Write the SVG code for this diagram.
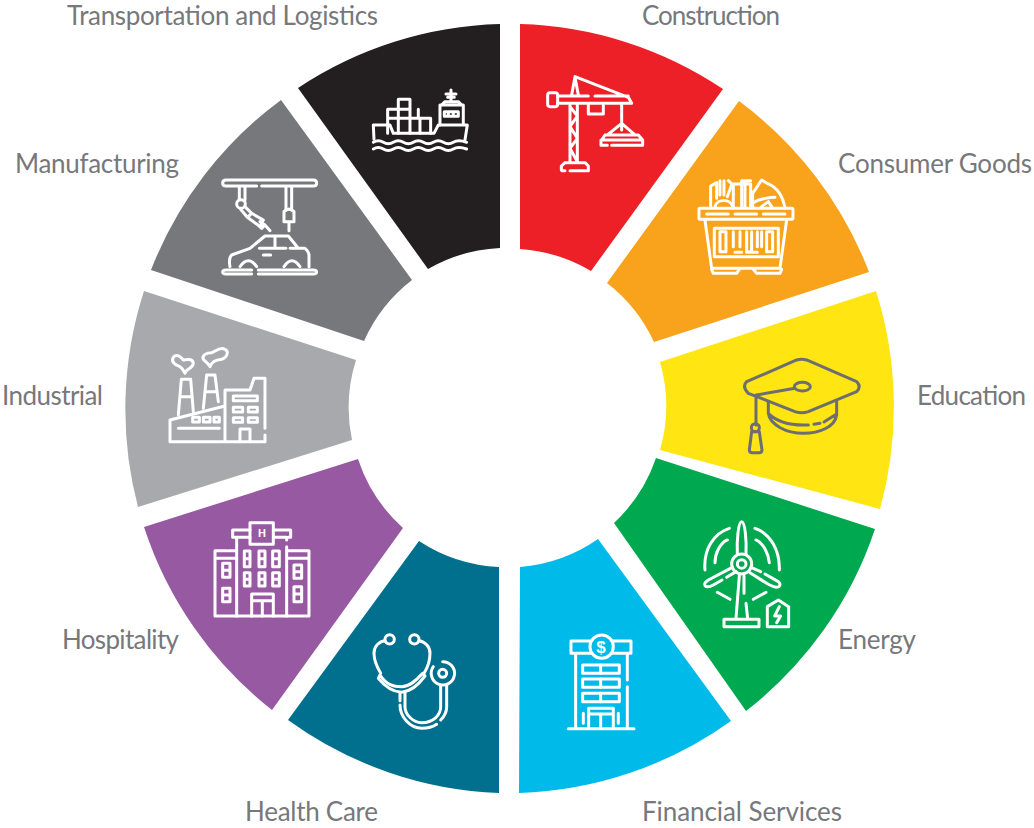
<svg xmlns="http://www.w3.org/2000/svg" width="1034" height="828" viewBox="0 0 1034 828">
<style>
.lbl{font-family:"Lato","Liberation Sans",sans-serif;font-weight:400;font-size:26px;fill:#77787b}
.ic{fill:none;stroke:#fff;stroke-width:9;stroke-linecap:round;stroke-linejoin:round}
.g{stroke:#6d6e71}
.gly{font-family:"Liberation Sans",sans-serif;font-weight:700;fill:#fff;text-anchor:middle}
</style>
<rect width="1034" height="828" fill="#fff"/>
<g id="construction">
<path fill="#ed2027" d="M520,24A384,384 0 0 1 723,89L591,271A159,159 0 0 0 520,249Z"/>
<g class="ic" transform="translate(520,60) scale(.3333)">
<rect x="83" y="98" width="30" height="42" rx="7"/>
<path d="M113,108H205M225,108H325M113,130H335L325,112L165,50L155,105M165,52L175,105"/>
<path d="M205,135V162H250V135M305,135V190L262,225M305,190L345,225M305,190V210M255,225H355L368,240V256H275M262,256H243V240H368M255,225L245,240"/>
<path d="M150,135V305M172,135V305M150,140L172,168L150,200L172,235L150,265L172,305M124,330V318L135,308H195L205,318V332H150M135,332H126"/>
</g>
<text class="lbl" x="642" y="25" textLength="138">Construction</text>
</g>
<g id="consumer-goods">
<path fill="#f9a21b" d="M739,101A384,384 0 0 1 869,272L654,342A159,159 0 0 0 607,283Z"/>
<g class="ic" transform="translate(520,60) scale(.3333)">
<rect x="537" y="445" width="282" height="33" rx="3"/>
<path d="M560,462H625M645,462H710M730,462H795M555,480L575,625H780L800,480M583,505V590H775V505H583M600,515V575H618V515ZM740,515V575H758V515ZM640,515V560M660,515V560M680,515V575H695V515M712,515V560M725,515V560M645,577H665M680,577H712"/>
<path d="M575,628L580,640H650L658,628M700,628L710,640H780L785,628"/>
<path d="M572,440V378L590,368V415M600,362V405M612,362V405M625,362L636,372L622,410M585,440C590,415 632,415 638,440M640,440V372H692V440M665,440V362H692M675,365V440M698,440V400L725,360L745,372C775,385 790,415 795,445M700,428C720,415 755,412 765,412M725,440L745,425L755,440"/>
</g>
<text class="lbl" x="838" y="173" textLength="194">Consumer Goods</text>
</g>
<g id="education">
<path fill="#ffe512" d="M876,291A384,384 0 0 1 880,509L660,450A159,159 0 0 0 660,362Z"/>
<g class="ic g" transform="translate(700,340) scale(.3333)" style="stroke-width:9">
<path d="M140,125L290,60Q305,55 320,60L470,125Q485,140 470,155L325,215Q305,222 285,215L145,160Q125,140 140,125Z"/>
<path d="M170,165L285,145"/><ellipse cx="307" cy="140" rx="24" ry="13"/>
<path d="M168,165V255"/><circle cx="166" cy="263" r="12"/>
<path d="M155,275L148,330Q148,338 156,338H178Q186,338 186,330L178,275Z"/>
<path d="M205,185V220C210,255 260,280 310,280C360,280 405,260 410,225V185M205,220C225,240 260,255 310,255H325M342,253L360,250M372,246L405,225"/>
</g>
<text class="lbl" x="917" y="405" textLength="109">Education</text>
</g>
<g id="energy">
<path fill="#00a84f" d="M875,529A384,384 0 0 1 746,711L614,523A159,159 0 0 0 656,458Z"/>
<g class="ic" transform="translate(700,340) scale(.3333)">
<circle cx="125" cy="672" r="30"/><circle cx="125" cy="672" r="13"/>
<path d="M112,642C110,600 115,545 125,545C135,545 140,600 138,642"/>
<path d="M97,682L25,720Q10,730 15,737Q22,745 40,735L66,720M80,712L108,695"/>
<path d="M153,682L182,695M195,702L235,725Q245,735 235,741Q225,745 200,730L150,698"/>
<path d="M118,708L108,835M132,708V760M138,790L143,835"/>
<rect x="72" y="838" width="105" height="22"/>
<path d="M88,565C40,580 10,630 15,690M82,600C60,610 45,640 45,668M165,565C210,580 240,630 238,690M168,600C190,610 205,640 208,668M52,757L90,778M160,778L198,757"/>
<path d="M202,860V800L235,780L266,800V860ZM238,800L224,828H242L230,848"/>
</g>
<text class="lbl" x="838" y="649" textLength="78">Energy</text>
</g>
<g id="financial-services">
<path fill="#00bbe9" d="M520,567A159,159 0 0 0 598,539L731,721A384,384 0 0 1 519,793Z"/>
<g class="ic" transform="translate(350,510) scale(.3333)">
<path d="M722,393H663V430H722M788,393H843V430H788"/>
<circle cx="755" cy="410" r="35"/>
<path d="M677,432V650M832,530V650M832,432V510M655,656H852"/>
<rect x="698" y="465" width="110" height="25"/><rect x="698" y="507" width="110" height="25"/><rect x="698" y="550" width="110" height="25"/>
<path d="M752,465V490M752,507V532M752,550V575"/>
<path d="M716,650V595H790V650M716,612H790M752,612V650M700,610V640M805,610V640"/>
</g>
<text class="gly" x="601" y="652.500" font-size="17">$</text>
<text class="lbl" x="642" y="821" textLength="200">Financial Services</text>
</g>
<g id="health-care">
<path fill="#00708e" d="M499,567V793A384,384 0 0 1 288,720L419,541A159,159 0 0 0 499,567Z"/>
<g class="ic" transform="translate(350,510) scale(.3333)">
<circle cx="119" cy="388" r="14"/><circle cx="193" cy="388" r="14"/>
<path d="M105,392C85,395 72,410 72,430C72,450 80,470 92,490M207,392C225,395 240,410 240,430C240,450 235,470 222,490"/>
<path d="M90,495C110,525 130,530 155,530C180,530 200,510 218,490L225,498C205,525 180,545 155,547C130,545 105,530 85,505Z"/>
<path d="M150,548V572M150,585C150,620 180,655 215,655C235,655 250,650 260,643M165,548V590C165,615 190,638 215,638C250,638 272,615 272,590V525M290,525V590C290,610 282,620 272,630"/>
<path d="M278,455A35,35 0 1 1 250,470"/><circle cx="278" cy="490" r="12"/>
</g>
<text class="lbl" x="245" y="821" textLength="133">Health Care</text>
</g>
<g id="hospitality">
<path fill="#9859a3" d="M358,459A159,159 0 0 0 403,528L272,710A384,384 0 0 1 144,527Z"/>
<g class="ic" transform="translate(150,340) scale(.3333)">
<rect x="300" y="548" width="70" height="65"/>
<path d="M300,570H248V592H300M370,570H422V592H415M370,592H410V600M260,592V828M410,620V828"/>
<path d="M195,828H477V632H415M195,828V632H230M195,655H260M412,655H477M235,632H258"/>
<path d="M218,670H240V712H218ZM218,691H240M218,745H240V785H218ZM218,765H240M432,675H455V715H432ZM432,695H455M432,740H455V785H432ZM432,762H455"/>
<path d="M283,633H300V680H283ZM283,656H300M327,633H345V680H327ZM327,656H345M368,633H388V680H368ZM368,656H388M283,698H300V738H283ZM283,718H300M327,698H345V738H327ZM327,718H345M368,698H388V738H368ZM368,718H388"/>
<path d="M305,828V762H370V828M305,782H370M337,782V828"/>
</g>
<text class="gly" x="262" y="537" font-size="11">H</text>
<text class="lbl" x="62" y="649" textLength="117">Hospitality</text>
</g>
<g id="industrial">
<path fill="#a7a9ac" d="M144,291L356,360A159,159 0 0 0 352,440L138,507A384,384 0 0 1 144,291Z"/>
<g class="ic" transform="translate(150,340) scale(.3333)">
<path d="M60,305V240L225,198V305M60,305H225V150H300L312,115H345V265M345,285V305H225M85,265H208"/>
<path d="M85,225L94,118H122L130,215M90,170H125M160,205L170,105H195L205,185M165,155H200"/>
<rect x="128" y="232" width="20" height="14"/><rect x="160" y="232" width="20" height="14"/><rect x="192" y="232" width="16" height="14"/>
<rect x="250" y="168" width="72" height="14"/><rect x="250" y="202" width="28" height="14"/><rect x="295" y="202" width="27" height="14"/><rect x="250" y="233" width="28" height="14"/><rect x="295" y="233" width="27" height="14"/>
<path d="M270,305V267H300V305"/>
<path d="M105,100C108,85 130,85 130,70C128,55 110,58 100,60C92,50 80,40 70,52C62,65 75,75 90,80C98,85 100,92 105,100ZM180,80C185,65 195,60 215,58C235,50 238,30 220,26C205,24 195,35 185,38C170,38 155,45 160,58C165,65 175,70 180,80Z"/>
</g>
<text class="lbl" x="2" y="405" textLength="101">Industrial</text>
</g>
<g id="manufacturing">
<path fill="#77787b" d="M281,100L412,280A159,159 0 0 0 364,341L151,270A384,384 0 0 1 281,100Z"/>
<g class="ic" transform="translate(210,80) scale(.3333)">
<path d="M140,318H48Q38,318 38,309Q38,300 48,300H310Q320,300 320,309Q320,318 310,318H155"/>
<path d="M88,320V358M105,320V360M228,320V390M245,320V390"/>
<circle cx="93" cy="372" r="13"/>
<path d="M105,380L125,400L112,412L92,388M125,400L160,420L150,440L112,412M150,425L165,435L155,445L140,432M165,435L180,452"/>
<path d="M222,395Q237,380 252,395V425H222ZM237,428V452"/>
<path d="M120,505L165,468H235L265,505H285Q298,515 297,530V560M195,472V505M148,505H228M240,505H262M65,525L120,505M65,525Q55,535 60,560M160,525H182M90,560Q115,525 140,560M222,560Q245,525 270,560"/>
<path d="M125,570H48Q38,570 38,576Q38,582 48,582H125M145,582H310Q320,582 320,576Q320,570 310,570H145"/>
</g>
<text class="lbl" x="15" y="173" textLength="164">Manufacturing</text>
</g>
<g id="transportation">
<path fill="#231f20" d="M298,88A384,384 0 0 1 500,24V248A159,159 0 0 0 428,269Z"/>
<g class="ic" transform="translate(210,80) scale(.3333)">
<path d="M492,178L490,135H540L550,160H672L685,135H772L765,180"/>
<path d="M533,160V88H565V58H600V115H625V88M600,115H662V160M565,88V160M600,115V160M630,115V160M533,115H600M533,88H600"/>
<path d="M690,135V75H760V130M695,75L705,65H745L755,75M723,30V65M708,42H738M713,52H733"/>
<rect x="703" y="95" width="42" height="14"/>
<path d="M715,97V107M730,97V107"/>
<path d="M490,187Q505,178 520,187T550,187T580,187T610,187T640,187T670,187T700,187T730,187T770,187M490,207Q505,198 520,207T550,207T580,207T610,207T640,207T670,207T700,207T730,207T770,207"/>
</g>
<text class="lbl" x="67" y="25" textLength="311">Transportation and Logistics</text>
</g>
</svg>
